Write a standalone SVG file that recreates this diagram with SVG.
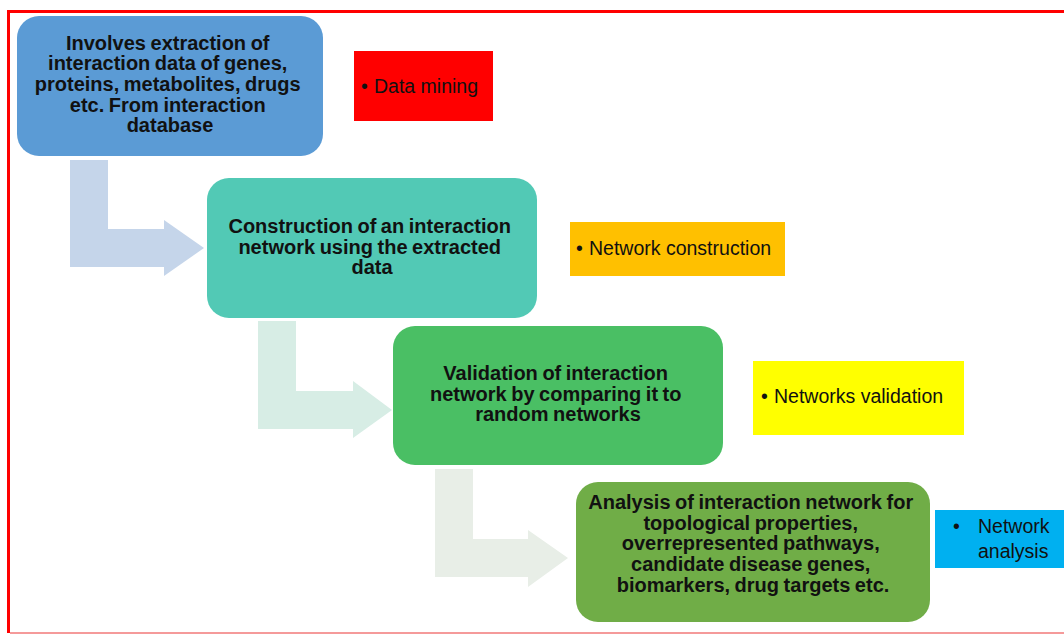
<svg xmlns="http://www.w3.org/2000/svg" width="1064" height="634" viewBox="0 0 1064 634">
  <style>
    .step { font-family: "Liberation Sans", Arial, sans-serif; font-size: 20px; font-weight: bold; fill: #111; text-anchor: middle; word-spacing: -1px; }
    .tag { font-family: "Liberation Sans", Arial, sans-serif; font-size: 19.5px; fill: #111; }
  </style>
  <rect x="0" y="0" width="1064" height="634" fill="#ffffff"/>
  <g id="frame" fill="none" stroke-width="3">
    <path d="M1064,11.5 H8.5 V633" stroke="#ff0000"/>
    <path d="M10,633 H1064" stroke="#f59a9a" stroke-width="2"/>
  </g>

  <g id="connectors">
    <path d="M70,160 H108 V229 H164 V220 L204,248 L164,276 V267 H70 Z" fill="#c5d5ea"/>
    <path d="M258,321 H296 V391 H353 V381 L392,410 L353,438 V429 H258 Z" fill="#d7ede5"/>
    <path d="M435,469 H473 V539 H528 V530 L568,558 L528,587 V577 H435 Z" fill="#e8eee7"/>
  </g>

  <g id="step1">
    <rect x="17" y="16" width="306" height="140" rx="22" fill="#5b9bd5"/>
    <text class="step">
      <tspan x="170" y="49.5">Involves extraction of</tspan>
      <tspan x="170" y="70.2">interaction data of genes,</tspan>
      <tspan x="170" y="90.9">proteins, metabolites, drugs</tspan>
      <tspan x="170" y="111.6">etc. From interaction</tspan>
      <tspan x="170" y="132.3">database</tspan>
    </text>
  </g>

  <g id="tag1">
    <rect x="354" y="51" width="139" height="70" fill="#ff0000"/>
    <text class="tag" y="93"><tspan x="361">•</tspan><tspan x="374">Data mining</tspan></text>
  </g>

  <g id="step2">
    <rect x="207" y="178" width="330" height="140" rx="22" fill="#52c9b5"/>
    <text class="step">
      <tspan x="372" y="233">Construction of an interaction</tspan>
      <tspan x="372" y="254">network using the extracted</tspan>
      <tspan x="372" y="274">data</tspan>
    </text>
  </g>

  <g id="tag2">
    <rect x="570" y="222" width="215" height="54" fill="#ffc000"/>
    <text class="tag" y="255"><tspan x="576">•</tspan><tspan x="589">Network construction</tspan></text>
  </g>

  <g id="step3">
    <rect x="393" y="326" width="330" height="139" rx="22" fill="#4abf64"/>
    <text class="step">
      <tspan x="558" y="380">Validation of interaction</tspan>
      <tspan x="558" y="401">network by comparing it to</tspan>
      <tspan x="558" y="421">random networks</tspan>
    </text>
  </g>

  <g id="tag3">
    <rect x="753" y="361" width="211" height="74" fill="#ffff00"/>
    <text class="tag" y="403"><tspan x="761">•</tspan><tspan x="774">Networks validation</tspan></text>
  </g>

  <g id="step4">
    <rect x="576" y="482" width="354" height="140" rx="22" fill="#70ad47"/>
    <text class="step">
      <tspan x="753" y="509">Analysis of interaction network for</tspan>
      <tspan x="753" y="530">topological properties,</tspan>
      <tspan x="753" y="550">overrepresented pathways,</tspan>
      <tspan x="753" y="571">candidate disease genes,</tspan>
      <tspan x="753" y="592">biomarkers, drug targets etc.</tspan>
    </text>
  </g>

  <g id="tag4">
    <rect x="935" y="510" width="129" height="58" fill="#00b0f0"/>
    <text class="tag"><tspan x="953" y="533">•</tspan><tspan x="978" y="533">Network</tspan><tspan x="978" y="558">analysis</tspan></text>
  </g>
</svg>
